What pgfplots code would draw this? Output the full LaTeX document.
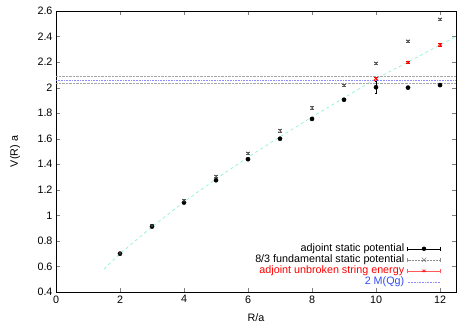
\documentclass[border=0pt]{standalone}
\usepackage{pgfplots}
\pgfplotsset{compat=1.18}
\usepackage{fontspec}
\setmainfont{Liberation Sans}
\definecolor{fitcyan}{rgb}{0.55,0.95,0.85}
\definecolor{bandgrey}{rgb}{0.65,0.65,0.65}
\definecolor{mqgblue}{rgb}{0.55,0.55,1.0}
\definecolor{textblue}{rgb}{0.2,0.3,0.95}

\begin{document}
\begin{tikzpicture}
\begin{axis}[
    scale only axis,
    width=400bp, height=281bp,
    xmin=0, xmax=12.5,
    ymin=0.4, ymax=2.6,
    xtick={0,2,...,12},
    ytick={0.4,0.6,...,2.6},
    yticklabel style={/pgf/number format/fixed,/pgf/number format/precision=1},
    /pgf/number format/assume math mode=true,
    tick label style={font=\fontsize{10.8}{12}\selectfont},
    label style={font=\fontsize{10.8}{12}\selectfont},
    xlabel={R/a}, ylabel={V(R) a},
    xlabel style={at={(axis description cs:0.5,0)}, anchor=center, yshift=-26bp},
    ylabel style={at={(axis description cs:0,0.5)}, anchor=center, yshift=41bp},
    tick align=inside,
    major tick length=4bp,
    axis line style={line width=0.6pt},
    legend style={at={(1,0)}, anchor=south east, xshift=-15bp, yshift=5bp,
        draw=none, fill=none, inner sep=0pt,
        font=\fontsize{10.8}{12}\selectfont, row sep=1bp, column sep=3bp,
        nodes={inner sep=0pt, text height=7.8bp, text depth=2.2bp}},
    legend cell align=right,
    legend plot pos=right,
]
% fit line
\addplot[fitcyan, dashed, line width=0.7pt, forget plot] coordinates {
    (1.5,0.58) (2,0.70) (3,0.91) (4,1.105) (5,1.285) (6,1.455) (7,1.615)
    (8,1.77) (9,1.92) (10,2.07) (11,2.20) (12,2.335) (12.5,2.40)
};
% 2 M(Qg) error band
\addplot[bandgrey, densely dotted, forget plot] coordinates {(0,2.088) (12.5,2.088)};
\addplot[bandgrey, densely dotted, forget plot] coordinates {(0,2.035) (12.5,2.035)};

\addplot[black, only marks, mark=*, mark size=2.1pt, forget plot,
    error bars/.cd, y dir=both, y explicit, error bar style={black, line width=0.6pt},
    error mark options={rotate=90, mark size=1.3pt}]
    coordinates {
    (2,0.700) +- (0,0.003)
    (3,0.912) +- (0,0.003)
    (4,1.100) +- (0,0.003)
    (5,1.275) +- (0,0.004)
    (6,1.440) +- (0,0.004)
    (7,1.600) +- (0,0.005)
    (8,1.755) +- (0,0.005)
    (9,1.905) +- (0,0.006)
    (10,2.003) +- (0,0.048)
    (11,2.000) +- (0,0.006)
    (12,2.020) +- (0,0.012)
};
\addlegendimage{legend image code/.code={
    \draw[black, line width=0.6pt] (0bp,0bp) -- (33bp,0bp);
    \draw[black, line width=0.6pt] (0bp,-2.2bp) -- (0bp,2.2bp) (33bp,-2.2bp) -- (33bp,2.2bp);
    \fill[black] (16.5bp,0bp) circle (2pt);}}
\addlegendentry{adjoint static potential}

\addplot[black!65, only marks, mark=x, mark size=2.2pt, forget plot,
    error bars/.cd, y dir=both, y explicit, error bar style={black!65},
    error mark options={rotate=90, mark size=2pt}]
    coordinates {
    (2,0.703) +- (0,0.01)
    (3,0.918) +- (0,0.01)
    (4,1.115) +- (0,0.01)
    (5,1.305) +- (0,0.01)
    (6,1.487) +- (0,0.01)
    (7,1.665) +- (0,0.01)
    (8,1.843) +- (0,0.01)
    (9,2.018) +- (0,0.01)
    (10,2.192) +- (0,0.01)
    (11,2.365) +- (0,0.01)
    (12,2.537) +- (0,0.01)
};
\addlegendimage{legend image code/.code={
    \draw[black!45, densely dotted, line width=0.5pt] (0bp,0bp) -- (33bp,0bp);
    \draw[black!45] (0bp,-2.2bp) -- (0bp,2.2bp) (33bp,-2.2bp) -- (33bp,2.2bp);
    \draw[black!65] (14.3bp,-2.2bp) -- (18.7bp,2.2bp) (14.3bp,2.2bp) -- (18.7bp,-2.2bp);}}
\addlegendentry{8/3 fundamental static potential}

\addplot[red, only marks, mark=asterisk, mark size=2.2pt, forget plot,
    error bars/.cd, y dir=both, y explicit, error bar style={red},
    error mark options={rotate=90, mark size=2pt}]
    coordinates {
    (10,2.070) +- (0,0.010)
    (11,2.200) +- (0,0.008)
    (12,2.335) +- (0,0.010)
};
\addlegendimage{legend image code/.code={
    \draw[red!65, line width=0.5pt] (0bp,0bp) -- (33bp,0bp);
    \draw[red!65] (0bp,-2.2bp) -- (0bp,2.2bp) (33bp,-2.2bp) -- (33bp,2.2bp);
    \draw[red] plot[mark=asterisk, mark size=2.2pt] coordinates {(16.5bp,0bp)};}}
\addlegendentry{\textcolor{red}{adjoint unbroken string energy}}

\addplot[mqgblue, densely dotted, line width=0.6pt, forget plot] coordinates {(0,2.060) (12.5,2.060)};
\addlegendimage{legend image code/.code={
    \draw[mqgblue, densely dotted, line width=0.6pt] (0bp,0bp) -- (33bp,0bp);}}
\addlegendentry{\textcolor{textblue}{2 M(Qg)}}
\end{axis}
\pgfresetboundingbox
\useasboundingbox ([shift={(-56bp,-41bp)}]current axis.south west) rectangle ([shift={(16bp,11bp)}]current axis.north east);
\end{tikzpicture}
\end{document}
